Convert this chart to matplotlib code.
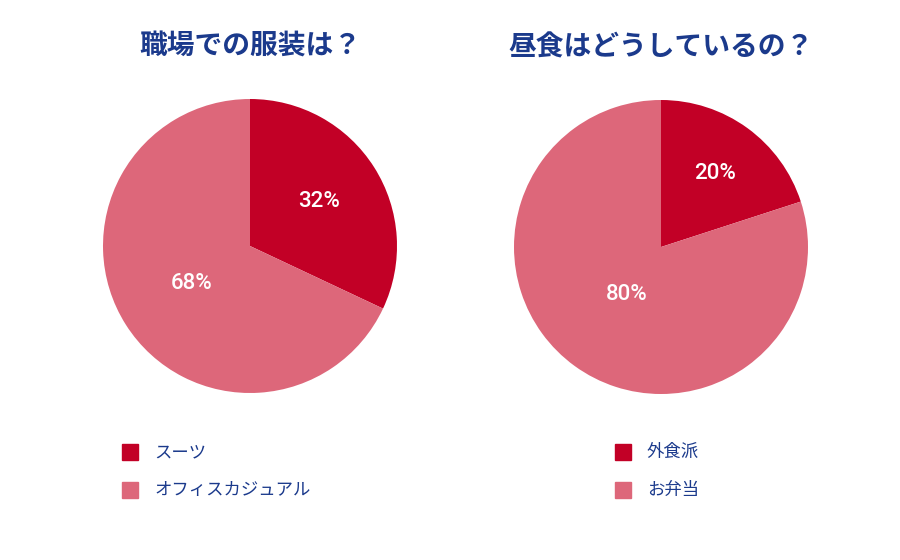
import matplotlib.pyplot as plt
import numpy as np
from matplotlib.patches import Rectangle

plt.rcParams["font.family"] = "Noto Sans CJK JP"

titles = ["職場での服装は？", "昼食はどうしているの？"]
labels_left = ["スーツ", "オフィスカジュアル"]
values_left = [32, 68]
labels_right = ["外食派", "お弁当"]
values_right = [20, 80]
label_dist = [[0.56, 0.47], [0.62, 0.40]]

colors = ["#C20026", "#DD677A"]
navy = "#1B3A8C"

fig = plt.figure(figsize=(9, 5.6), dpi=100)

centers = [(250, 246), (661, 247)]
legend_x = [130, 623]
r = 147
for i, (vals, labs) in enumerate([(values_left, labels_left), (values_right, labels_right)]):
    cx, cy = centers[i]
    ax = fig.add_axes([(cx - r) / 900, 1 - (cy + r) / 560, 2 * r / 900, 2 * r / 560])
    wedges, _ = ax.pie(vals, colors=colors, startangle=90, counterclock=False,
                       wedgeprops=dict(linewidth=0))
    for w, v, d in zip(wedges, vals, label_dist[i]):
        ang = np.deg2rad((w.theta1 + w.theta2) / 2)
        ax.text(d * np.cos(ang), d * np.sin(ang), f"{v}%", color="white",
                fontsize=16, fontweight="medium", ha="center", va="center",
                family="Roboto", fontstretch="condensed")
    ax.set_aspect("auto")
    ax.set_xlim(-1, 1)
    ax.set_ylim(-1, 1)
    fig.text(cx / 900, 1 - 47 / 560, titles[i], color=navy, fontsize=20,
             fontweight="bold", ha="center", va="center")
    for j, lab in enumerate(labs):
        y = 452 + 38 * j
        fig.patches.append(Rectangle(((legend_x[i] - 8) / 900, 1 - (y + 8) / 560),
                                     16 / 900, 16 / 560, color=colors[j],
                                     transform=fig.transFigure, figure=fig))
        fig.text((legend_x[i] + 24) / 900, 1 - y / 560, lab, color=navy,
                 fontsize=12.5, ha="left", va="center")

fig.savefig("out.png", dpi=100)
